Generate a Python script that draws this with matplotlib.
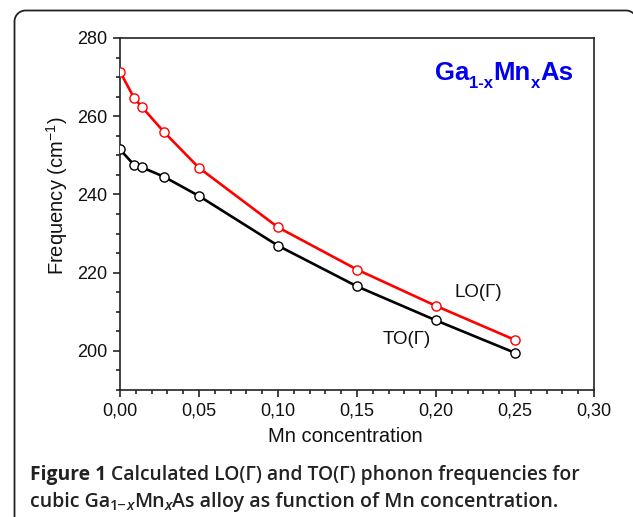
import matplotlib
matplotlib.use("Agg")
import matplotlib.pyplot as plt
from matplotlib.ticker import MultipleLocator, FuncFormatter
from matplotlib.patches import PathPatch
from matplotlib.path import Path
from matplotlib.transforms import IdentityTransform

# ---- data ----
x_mn = [0.0, 0.009, 0.014, 0.028, 0.05, 0.10, 0.15, 0.20, 0.25]
lo_freq = [271.4, 264.6, 262.3, 255.9, 246.8, 231.6, 220.8, 211.5, 202.8]
to_freq = [251.5, 247.5, 246.9, 244.5, 239.6, 226.9, 216.5, 207.8, 199.5]
x_ticks = [0.00, 0.05, 0.10, 0.15, 0.20, 0.25, 0.30]
y_ticks = [200, 220, 240, 260, 280]

W, H = 633, 517
fig = plt.figure(figsize=(W / 100, H / 100), dpi=100)
renderer = fig.canvas.get_renderer()


def runs(x_px, y_px, parts, **common):
    """Place text runs left to right; y_px is baseline measured from top."""
    x = x_px
    for txt, opts in parts:
        o = dict(common)
        o.update(opts)
        dy = o.pop('dy', 0)
        t = fig.text(x / W, 1 - (y_px + dy) / H, txt, va='baseline', ha='left', **o)
        x += t.get_window_extent(renderer).width


# rounded frame (open at bottom / right), pixel coords with origin bottom-left
xl, xr, yt, r = 14.5, 637.0, H - 10.5, 11.0
k = 0.5523 * r
verts = [(xl, -5), (xl, yt - r),
         (xl, yt - r + k), (xl + r - k, yt), (xl + r, yt),
         (xr - r, yt),
         (xr - r + k, yt), (xr, yt - r + k), (xr, yt - r),
         (xr, -5)]
codes = [Path.MOVETO, Path.LINETO,
         Path.CURVE4, Path.CURVE4, Path.CURVE4,
         Path.LINETO,
         Path.CURVE4, Path.CURVE4, Path.CURVE4,
         Path.LINETO]
frame = PathPatch(Path(verts, codes), transform=IdentityTransform(), fill=False,
                  edgecolor='#222222', linewidth=1.3, clip_on=False)
fig.patches.append(frame)

ax = fig.add_axes([120 / W, 1 - 390 / H, (594 - 120) / W, (390 - 38) / H])
ax.plot(x_mn, lo_freq, color='#ff0000', lw=1.9, marker='o', ms=6.6,
        mfc='white', mec='#ff0000', mew=1.0, zorder=3)
ax.plot(x_mn, to_freq, color='black', lw=1.9, marker='o', ms=6.6,
        mfc='white', mec='black', mew=1.0, zorder=3)

ax.set_xlim(0, 0.30)
ax.set_ylim(190, 280)
ax.set_xticks(x_ticks)
ax.set_yticks(y_ticks)
ax.xaxis.set_minor_locator(MultipleLocator(0.01))
ax.yaxis.set_minor_locator(MultipleLocator(5))
ax.xaxis.set_major_formatter(FuncFormatter(lambda v, p: f"{v:.2f}".replace('.', ',')))
ax.yaxis.set_major_formatter(FuncFormatter(lambda v, p: f"{v:.0f}"))
ax.tick_params(which='both', direction='out', top=False, right=False,
               labelsize=13, width=1.1, colors='#111111', labelfontfamily='Liberation Sans')
ax.tick_params(which='major', length=5, pad=4)
ax.tick_params(which='minor', length=3)
for s in ax.spines.values():
    s.set_linewidth(1.2)
    s.set_color('#222222')

# axis labels
fig.text(345 / W, 1 - 437 / H, 'Mn concentration', fontsize=14.5,
         family='Liberation Sans', ha='center', va='center', color='#111111')
fig.text(57 / W, 1 - 196 / H, 'Frequency (cm$^{\\mathregular{-1}}$)', fontsize=14.5,
         family='Liberation Sans', ha='center', va='center', rotation=90,
         color='#111111')

ax.text(0.2114, 214.9, 'LO(Γ)', fontsize=13.5, family='Liberation Sans',
        ha='left', va='center', color='#111111')
ax.text(0.1663, 203.0, 'TO(Γ)', fontsize=13.5, family='Liberation Sans',
        ha='left', va='center', color='#111111')

# blue compound label
big = dict(fontsize=18.5)
sub = dict(fontsize=12, dy=8)
runs(435, 80, [('Ga', big), ('1-x', sub), ('Mn', big), ('x', sub), ('As', big)],
     family='Liberation Sans', fontweight='bold', color='#0000ee')

# caption
cap = dict(family='Open Sans', color='#222222', fontsize=14)
runs(30, 480, [('Figure 1', dict(fontweight='bold', fontsize=13.9)),
               (' Calculated LO(Γ) and TO(Γ) phonon frequencies for',
                dict(fontweight='semibold', fontsize=13.9))], **cap)
sb = dict(fontweight='semibold')
sbs = dict(fontweight='semibold', fontsize=10.5, dy=3)
sbi = dict(fontweight='semibold', fontsize=10.5, dy=3, style='italic')
runs(30, 507, [('cubic Ga', sb), ('1\u2212', sbs), ('x', sbi), ('Mn', sb),
               ('x', sbi), ('As alloy as function of Mn concentration.', sb)], **cap)

fig.savefig('out.png', dpi=100)
